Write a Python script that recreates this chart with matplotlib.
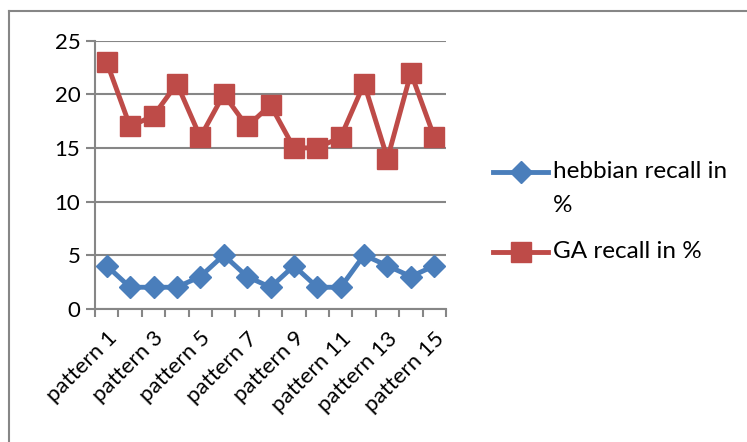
import matplotlib

matplotlib.use("Agg")
import matplotlib.pyplot as plt
from matplotlib.lines import Line2D

plt.rcParams["font.family"] = ["Lato", "DejaVu Sans"]

patterns = [f"pattern {i}" for i in range(1, 16)]
hebbian = [4, 2, 2, 2, 3, 5, 3, 2, 4, 2, 2, 5, 4, 3, 4]
ga = [23, 17, 18, 21, 16, 20, 17, 19, 15, 15, 16, 21, 14, 22, 16]

BLUE = "#4a7ebb"
RED = "#be4b48"
GRID = "#868686"

W, H = 747, 442
fig = plt.figure(figsize=(W / 100, H / 100), dpi=100)
ax = fig.add_axes([95 / W, 1 - 308.7 / H, (446 - 95) / W, (308.7 - 40.7) / H])

x = list(range(len(patterns)))
ax.plot(x, hebbian, color=BLUE, lw=3.5, marker="D", ms=11, zorder=3,
        solid_joinstyle="miter")
ax.plot(x, ga, color=RED, lw=3.5, marker="s", ms=14, zorder=3,
        solid_joinstyle="miter")

ax.set_xlim(-0.5, len(patterns) - 0.5)
ax.set_ylim(0, 25)
ax.set_yticks(range(0, 26, 5))
ax.yaxis.grid(True, color=GRID, lw=1.5)
ax.set_axisbelow(True)

# ticks on category boundaries, labels on every other category
ax.set_xticks([i - 0.5 for i in range(len(patterns) + 1)])
ax.set_xticklabels([])
ax.set_xticks(x[::2], minor=True)
ax.set_xticklabels(patterns[::2], minor=True, rotation=45, ha="right",
                   va="top", rotation_mode="anchor", fontsize=16)
ax.tick_params(axis="x", which="minor", length=0, pad=14)
ax.tick_params(axis="x", which="major", length=6, width=1.5, color=GRID)
ax.tick_params(axis="y", length=6.5, width=1.5, color=GRID, labelsize=16,
               pad=4)

for s in ["top", "right"]:
    ax.spines[s].set_visible(False)
for s in ["left", "bottom"]:
    ax.spines[s].set_color(GRID)
    ax.spines[s].set_linewidth(1.5)

# legend drawn by hand to match the wrapped label
def legend_row(y_px, color, marker, ms, label):
    yf = 1 - y_px / H
    fig.add_artist(Line2D([493 / W, 548 / W], [yf, yf], color=color, lw=3.5,
                          transform=fig.transFigure))
    fig.add_artist(Line2D([520.5 / W], [yf], color=color, marker=marker,
                          ms=ms, transform=fig.transFigure))
    fig.text(553 / W, yf, label, fontsize=17.5, va="center", ha="left")

legend_row(172, BLUE, "D", 11, "hebbian recall in")
fig.text(553 / W, 1 - 205 / H, "%", fontsize=17.5, va="center", ha="left")
legend_row(252, RED, "s", 14, "GA recall in %")

# chart frame (only top and left edges visible in the crop)
fig.add_artist(Line2D([8.5 / W, 8.5 / W], [0, 1 - 10.5 / H], color=GRID,
                      lw=1.5, transform=fig.transFigure))
fig.add_artist(Line2D([8.5 / W, 746 / W], [1 - 10.5 / H, 1 - 10.5 / H],
                      color=GRID, lw=1.5, transform=fig.transFigure))

fig.savefig("out.png", dpi=100)
